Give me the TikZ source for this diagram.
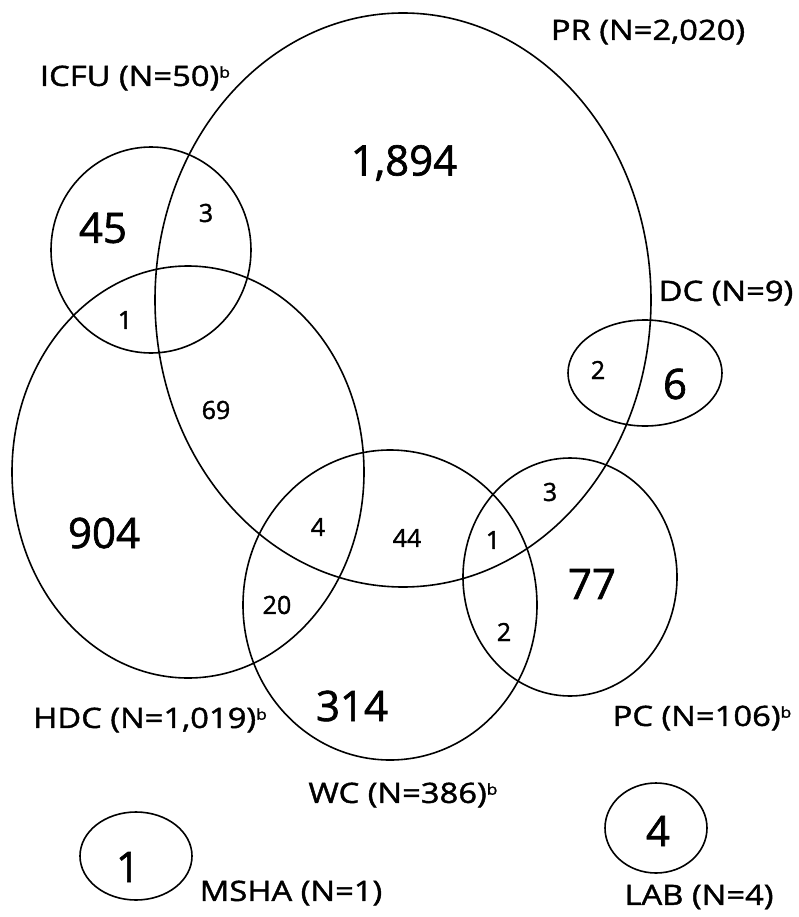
\documentclass[tikz,border=0pt]{standalone}
\usepackage{fontspec}
\setmainfont[FakeBold=1.2]{Open Sans}
\newfontfamily\numfont[FakeBold=1.5]{Open Sans}
\newfontfamily\labelfont[FakeStretch=1.17,FakeBold=1.5]{Open Sans}
\usetikzlibrary{shapes.geometric}
\tikzset{
  setshape/.style={draw, ellipse, line width=1.6pt, inner sep=0pt},
  bignum/.style={font=\numfont\fontsize{42}{42}\selectfont, inner sep=0pt},
  smallnum/.style={font=\numfont\fontsize{25}{25}\selectfont, inner sep=0pt},
  setlabel/.style={font=\labelfont\fontsize{28}{28}\selectfont, inner sep=0pt},
}
\newcommand{\supb}{\raisebox{0.55ex}{\fontsize{15}{15}\selectfont b}}
\begin{document}
\begin{tikzpicture}[x=1pt, y=-1pt]
  \useasboundingbox (0,0) rectangle (799,917);

  % sets
  \node[setshape, minimum width=496pt, minimum height=574pt] (pr)   at (403,300) {};
  \node[setshape, minimum width=352pt, minimum height=412pt] (hdc)  at (188,472) {};
  \node[setshape, minimum width=200pt, minimum height=206pt] (icfu) at (151,250) {};
  \node[setshape, minimum width=294pt, minimum height=310pt] (wc)   at (390,605) {};
  \node[setshape, minimum width=214pt, minimum height=238pt] (pc)   at (570,577) {};
  \node[setshape, minimum width=154pt, minimum height=106pt] (dc)   at (645,373) {};
  \node[setshape, minimum width=102pt, minimum height=90pt]  (lab)  at (656,828) {};
  \node[setshape, minimum width=112pt, minimum height=88pt]  (msha) at (136,856) {};

  % set labels
  \node[setlabel] (lpr)   at (648,32)  {PR (N=2,020)};
  \node[setlabel] (licfu) at (135,78)  {ICFU (N=50)\supb};
  \node[setlabel] (ldc)   at (726,293) {DC (N=9)};
  \node[setlabel] (lhdc)  at (150,720) {HDC (N=1,019)\supb};
  \node[setlabel] (lpc)   at (702,718) {PC (N=106)\supb};
  \node[setlabel] (lwc)   at (403,795) {WC (N=386)\supb};
  \node[setlabel] (llab)  at (699,897) {LAB (N=4)};
  \node[setlabel] (lmsha) at (291,893) {MSHA (N=1)};

  % region counts
  \node[bignum]   (n1894) at (404,163) {1,894};
  \node[bignum]   (n45)   at (103,228) {45};
  \node[smallnum] (n3a)   at (206,213) {3};
  \node[smallnum] (n1a)   at (125,320) {1};
  \node[smallnum] (n69)   at (216,410) {69};
  \node[bignum]   (n904)  at (104,533) {904};
  \node[smallnum] (n4)    at (318,527) {4};
  \node[smallnum] (n44)   at (407,538) {44};
  \node[smallnum] (n20)   at (277,605) {20};
  \node[bignum]   (n314)  at (352,706) {314};
  \node[smallnum] (n1b)   at (493,540) {1};
  \node[smallnum] (n3b)   at (550,492) {3};
  \node[bignum]   (n77)   at (592,584) {77};
  \node[smallnum] (n2a)   at (504,632) {2};
  \node[smallnum] (n2b)   at (598,370) {2};
  \node[bignum]   (n6)    at (675,384) {6};
  \node[bignum]   (n4lab) at (658,831) {4};
  \node[bignum]   (n1ms)  at (128,867) {1};
\end{tikzpicture}
\end{document}
